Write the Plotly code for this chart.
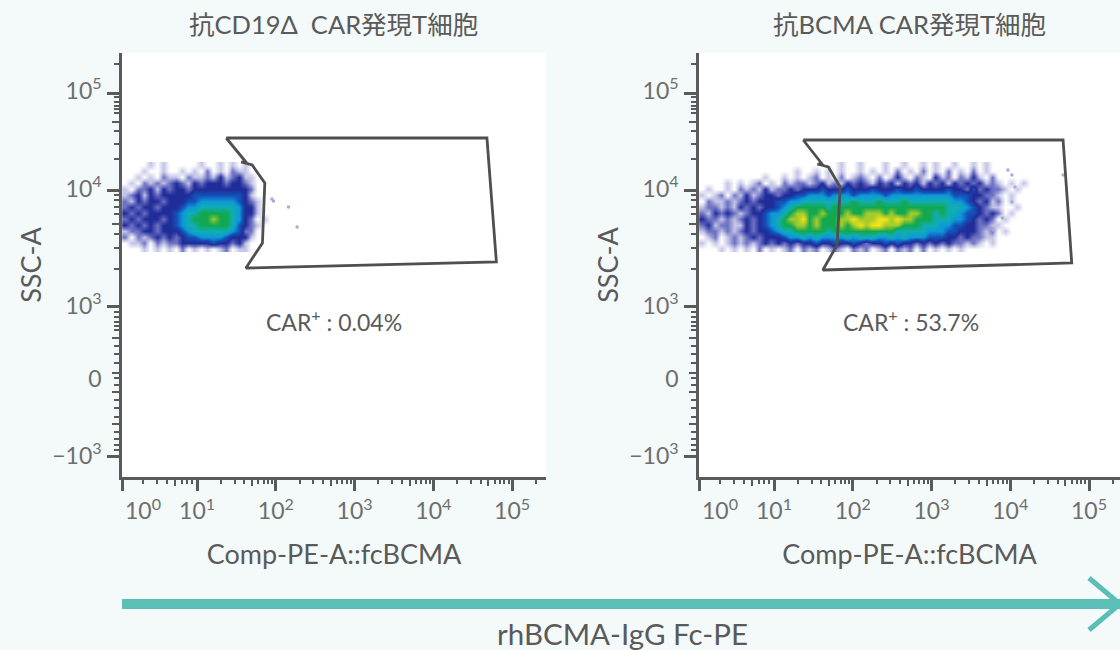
import plotly.graph_objects as go

# ---- text ----
panel_titles = ["抗CD19Δ\u00a0\u00a0CAR発現T細胞", "抗BCMA CAR発現T細胞"]
car_labels = ["CAR<sup>+</sup> : 0.04%", "CAR<sup>+</sup> : 53.7%"]
x_title = "Comp-PE-A::fcBCMA"
y_title = "SSC-A"
bottom_label = "rhBCMA-IgG Fc-PE"

# ---- x axis: biexponential display units (1 = 10^1, 2 = 10^2 ...) ----
x_label_vals = [0.314, 1, 2, 3, 4, 5]
x_label_text = ["10<sup>%d</sup>" % n for n in range(6)]
x_long = [0.047, 1, 2, 3, 4, 5]
x_mid = [0.72, 1.699, 2.699, 3.699, 4.699]
x_short = [0.314, 0.49, 0.62, 0.81, 0.873, 0.936, 5.301,
           1.301, 1.477, 1.602, 1.778, 1.845, 1.903, 1.954,
           2.301, 2.477, 2.602, 2.778, 2.845, 2.903, 2.954,
           3.301, 3.477, 3.602, 3.778, 3.845, 3.903, 3.954,
           4.301, 4.477, 4.602, 4.778, 4.845, 4.903, 4.954]

# ---- y axis: biexponential display channel ----
y_label_vals = [386, 288, 171, 98, 21]
y_label_text = ["10<sup>5</sup>", "10<sup>4</sup>", "10<sup>3</sup>", "0", "\u221210<sup>3</sup>"]
y_long = [384, 287, 171, 21]
y_mid = [355, 253, 139, 104, 85, 53]
y_short = [413, 380, 375, 371, 368, 364, 346, 333, 318, 282, 277, 270, 263, 243, 229, 208,
           165, 160, 155, 151, 147, 131, 123, 114, 99, 92, 77, 69, 60, 45, 38, 32, 27]

# ---- gates (display units) ----
gate1_x = [1.37, 4.68, 4.80, 1.62, 1.83, 1.86, 1.70, 1.56, 1.63, 1.37]
gate1_y = [339, 339, 215, 209, 234, 294, 312, 315, 314, 339]
gate2_x = [1.37, 4.67, 4.78, 1.62, 1.80, 1.84, 1.69, 1.55, 1.62, 1.37]
gate2_y = [337, 337, 214, 207, 232, 290, 310, 313, 312, 337]

# ---- stray events ----
stray1_x = [1.95, 1.97, 2.16, 2.27]
stray1_y = [278, 276, 270, 250]
stray2_x = [3.97, 4.02, 4.06, 4.02, 3.90, 3.78, 4.67]
stray2_y = [307, 302, 290, 275, 259, 247, 302]

# ---- density levels, top row first (0 none .. 9 yellow) ----
density_x_start = 0.09
density_step = 0.08
density_y = [312, 306, 300, 294, 288, 282, 276, 270, 264, 258, 252, 246, 240, 234, 228]
density1 = [
    "000010100000100101010000",
    "000100100101020102110000",
    "001010211021121312311000",
    "010212123213233323321000",
    "102231323323333333332000",
    "123132333334444444431000",
    "213233233344555555432100",
    "232332333455666666533100",
    "323233334566777776533100",
    "232333234567778776532010",
    "323232334566777776432100",
    "122332333456666665422000",
    "202123232344555543331000",
    "011202122333334332310000",
    "000101010201010120110000",
]
density2 = [
    "00000000000000000000001001000100100101001001010000000",
    "00000000000000010010101001010102010201020102010000000",
    "00000000001001010120102012102013102103120213102000000",
    "00001010120102122123121323213231323132313232312101010",
    "01001021213122323334333433343334334333343324232210100",
    "10120213123323344555455545555455555555554443322101000",
    "02112123233344556666666676667666766666665543231201000",
    "12212132323345677777677777777777777777766654321100100",
    "21323212334556788778777877888787788776766544323201000",
    "32212123234567889787778898889989887776665543232010000",
    "23122113234567788787778789899888777666554433221100000",
    "12212123233456677777677777777776666655544333212010000",
    "01201212323334556565555656665565655544433232211000000",
    "10101212123232323343343343233434332323232212101000000",
    "00010101020101202120121021201202120201010100000000000",
]
level_colors = ["#ffffff", "#c4c5e6", "#6d72c4", "#202c98", "#1450b8",
                "#0d98d8", "#10adb2", "#12a850", "#a5cb2a", "#f0e41c"]

GREY = "#5a5a5a"
LABEL = "#6e6e6e"
FONT = "Lato, 'Noto Sans CJK JP', sans-serif"
W, H = 1120, 650
colorscale = [[i / 9, c] for i, c in enumerate(level_colors)]


def grid(rows):
    return [[int(c) for c in r] for r in rows]


fig = go.Figure()
panels = [
    (density1, gate1_x, gate1_y, stray1_x, stray1_y, "x", "y", "x3", "y3"),
    (density2, gate2_x, gate2_y, stray2_x, stray2_y, "x2", "y2", "x4", "y4"),
]
for dens, gx, gy, sx, sy, xa, ya, xo, yo in panels:
    z = grid(dens)
    fig.add_trace(go.Heatmap(
        z=z, x=[density_x_start + density_step * i for i in range(len(z[0]))], y=density_y,
        colorscale=colorscale, zmin=0, zmax=9, zsmooth="best", showscale=False,
        hoverinfo="skip", xaxis=xa, yaxis=ya))
    fig.add_trace(go.Scatter(
        x=sx, y=sy, mode="markers", marker=dict(size=3.5, color="#a9aadb"),
        hoverinfo="skip", showlegend=False, xaxis=xo, yaxis=yo))
    fig.add_trace(go.Scatter(
        x=gx, y=gy, mode="lines", line=dict(color="#4f4f4f", width=2.8),
        hoverinfo="skip", showlegend=False, xaxis=xo, yaxis=yo))


def main_x(dom, rng, anchor):
    return dict(domain=dom, range=rng, anchor=anchor, showgrid=False, zeroline=False,
                showline=True, linecolor=GREY, linewidth=2.5,
                tickmode="array", tickvals=x_label_vals, ticktext=x_label_text,
                ticks="", ticklabelstandoff=12, tickfont=dict(family=FONT, size=23, color=LABEL),
                minor=dict(tickmode="array", tickvals=x_short, ticks="outside", ticklen=4,
                           tickwidth=2, tickcolor=GREY),
                title=dict(text=x_title, standoff=22, font=dict(family=FONT, size=27, color=GREY)))


def main_y(dom, anchor):
    return dict(domain=dom, range=[0, 424], anchor=anchor, showgrid=False, zeroline=False,
                showline=True, linecolor=GREY, linewidth=2.5,
                tickmode="array", tickvals=y_label_vals, ticktext=y_label_text,
                ticks="", ticklabelstandoff=13, tickfont=dict(family=FONT, size=23, color=LABEL),
                minor=dict(tickmode="array", tickvals=y_short, ticks="outside", ticklen=5,
                           tickwidth=2, tickcolor=GREY),
                title=dict(text=y_title, standoff=3, font=dict(family=FONT, size=27, color=GREY)))


def over_x(dom, rng, anchor, base):
    return dict(domain=dom, range=rng, anchor=anchor, overlaying=base, showgrid=False,
                zeroline=False, showline=False, showticklabels=False,
                tickmode="array", tickvals=x_long, ticks="outside", ticklen=13,
                tickwidth=2.5, tickcolor=GREY,
                minor=dict(tickmode="array", tickvals=x_mid, ticks="outside", ticklen=8,
                           tickwidth=2, tickcolor=GREY))


def over_y(dom, anchor, base):
    return dict(domain=dom, range=[0, 424], anchor=anchor, overlaying=base, showgrid=False,
                zeroline=False, showline=False, showticklabels=False,
                tickmode="array", tickvals=y_long, ticks="outside", ticklen=14,
                tickwidth=2.5, tickcolor=GREY,
                minor=dict(tickmode="array", tickvals=y_mid, ticks="outside", ticklen=9,
                           tickwidth=2, tickcolor=GREY))


dx1 = [122 / W, 546 / W]
dx2 = [699 / W, 1.0]
dy = [(H - 477) / H, (H - 53) / H]
rx1 = [0.047, 5.43]
rx2 = [0.047, 5.393]

annotations = []
for txt, cx in zip(panel_titles, [333, 909]):
    annotations.append(dict(text=txt, xref="paper", yref="paper", x=cx / W, y=(H - 24) / H,
                            showarrow=False, xanchor="center", yanchor="middle",
                            font=dict(family=FONT, size=25.5, color=GREY)))
for txt, xr, yr in zip(car_labels, ["x", "x2"], ["y", "y2"]):
    annotations.append(dict(text=txt, xref=xr, yref=yr, x=2.74, y=157, showarrow=False,
                            xanchor="center", yanchor="middle",
                            font=dict(family=FONT, size=23, color=GREY)))
annotations.append(dict(text=bottom_label, xref="paper", yref="paper", x=622 / W, y=(H - 633) / H,
                        showarrow=False, xanchor="center", yanchor="middle",
                        font=dict(family=FONT, size=29.5, color=GREY)))

TEAL = "#5bbfb7"
shapes = [
    dict(type="line", xref="paper", yref="paper", x0=122 / W, x1=1.0,
         y0=(H - 604) / H, y1=(H - 604) / H, line=dict(color=TEAL, width=10)),
    dict(type="path", xref="paper", yref="paper",
         path="M %f %f L %f %f L %f %f" % (1089 / W, (H - 578) / H, 1.0, (H - 604) / H, 1089 / W, (H - 630) / H),
         line=dict(color=TEAL, width=5)),
]

fig.update_layout(
    width=W, height=H, autosize=False, showlegend=False,
    margin=dict(l=0, r=0, t=0, b=0),
    paper_bgcolor="#f4f9f9", plot_bgcolor="#ffffff",
    xaxis=main_x(dx1, rx1, "y"), yaxis=main_y(dy, "x"),
    xaxis2=main_x(dx2, rx2, "y2"), yaxis2=main_y(dy, "x2"),
    xaxis3=over_x(dx1, rx1, "y3", "x"), yaxis3=over_y(dy, "x3", "y"),
    xaxis4=over_x(dx2, rx2, "y4", "x2"), yaxis4=over_y(dy, "x4", "y2"),
    annotations=annotations, shapes=shapes,
)
fig.write_html("out.html", config={"displayModeBar": False},
               post_script="document.body.style.margin='0';document.documentElement.style.background='#f4f9f9';")
